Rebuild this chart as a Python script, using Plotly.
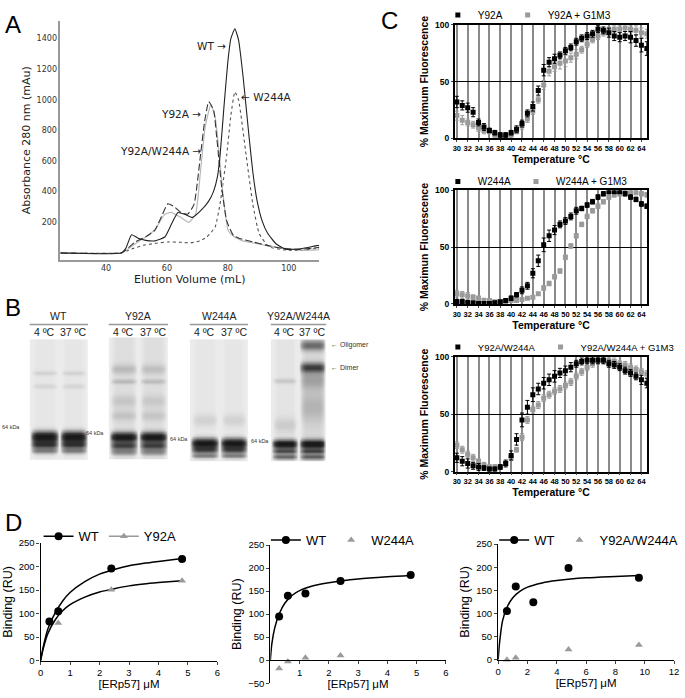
import numpy as np
import plotly.graph_objects as go

W, H = 685, 698
FONT = "Liberation Sans"
AFONT = "DejaVu Sans"

# ---------------- Panel A: elution profiles ----------------
wt_x = [25, 45, 46.5, 48.4, 50.8, 53, 56.1, 59.3, 61.5, 63.6, 65.8, 68.4, 71, 73.7, 75.3, 76.6, 77.5, 78.7, 80, 81, 82.3, 83.5, 85, 86, 87, 88.2, 89.5, 91.3, 93, 95.7, 98.8, 104, 109.2, 110]
wt_y = [0, 0, 30, 119, 94, 82, 79, 104, 189, 264, 253, 232, 274, 338, 402, 500, 650, 950, 1250, 1400, 1463, 1390, 1150, 950, 750, 527, 350, 206, 130, 62, 25, 28, 48, 50]
y92a_x = [25, 45, 46.5, 49.6, 53, 56, 58, 59.2, 61.3, 64.6, 67.2, 69.4, 71, 72.6, 74.4, 75.8, 76.9, 78.3, 80.1, 82.3, 84.9, 89.2, 93.5, 98.8, 104, 109.2, 110]
y92a_y = [0, 0, 15, 60, 105, 150, 215, 250, 265, 232, 200, 253, 530, 828, 966, 891, 700, 402, 147, 104, 79, 62, 45, 30, 18, 20, 22]
w244a_x = [25, 45, 47, 49, 52.5, 56, 60.3, 64, 67.8, 71, 73.1, 75.8, 77.4, 79.6, 81, 82.3, 83.5, 86, 88.2, 90.3, 93.5, 98.8, 104, 109.2, 110]
w244a_y = [0, 0, 15, 30, 51, 62, 72, 70, 66, 80, 104, 168, 317, 636, 900, 1051, 1000, 636, 317, 125, 40, 19, 16, 30, 32]
dbl_x = [25, 45, 46.5, 49.6, 53, 56, 58.5, 60.3, 62.5, 64.6, 66.8, 68.9, 71, 72.3, 73.7, 75.3, 76.4, 78, 79.6, 81.8, 83.9, 88.2, 92.5, 97.8, 103.2, 109.6, 110]
dbl_y = [0, 0, 19, 72, 105, 147, 250, 321, 300, 264, 253, 317, 636, 849, 987, 934, 743, 423, 211, 115, 94, 72, 51, 30, 23, 36, 38]
a_xticks = [40, 60, 80, 100]
a_yticks = [200, 400, 600, 800, 1000, 1200, 1400]

# ---------------- Panel C: thermal melts ----------------
temps = list(range(30, 66))
c1_black = [32, 29, 27, 23, 14, 10, 7, 5, 3, 3, 5, 8, 13, 22, 28, 42, 60, 67, 70, 73, 77, 80, 85, 88, 90, 92, 96, 95, 93, 90, 89, 90, 89, 86, 82, 79]
c1_grey = [20, 16, 14, 12, 9, 7, 6, 3, 1, 1, 3, 6, 11, 17, 24, 34, 47, 59, 63, 66, 68, 71, 74, 78, 83, 87, 90, 93, 95, 96, 96, 97, 96, 95, 93, 92]
c1_black_err = [5, 4, 4, 4, 3, 3, 2, 2, 2, 2, 2, 3, 3, 3, 4, 4, 5, 4, 4, 3, 3, 3, 3, 3, 3, 3, 3, 3, 4, 4, 4, 4, 5, 5, 6, 6]
c1_grey_err = [4, 4, 3, 3, 3, 3, 2, 2, 2, 2, 2, 2, 3, 3, 3, 3, 4, 4, 4, 5, 5, 4, 4, 3, 3, 3, 3, 3, 3, 3, 3, 3, 3, 4, 4, 4]
c2_black = [2, 2, 1, 1, 0.5, 0.5, 0.5, 1, 2, 3, 5, 8, 12, 16, 27, 38, 52, 60, 65, 70, 73, 77, 82, 84, 87, 90, 94, 97, 99, 99, 99, 97, 94, 92, 88, 86]
c2_grey = [9, 8, 7, 6, 5, 3, 3, 2, 2, 2, 3, 3, 4, 5, 6, 9, 14, 18, 24, 29, 41, 51, 60, 70, 77, 82, 86, 90, 94, 96, 97, 99, 99, 98, 97, 96]
c2_black_err = [2, 2, 2, 1, 1, 1, 1, 1, 1, 1, 2, 2, 3, 3, 4, 5, 6, 5, 4, 3, 3, 3, 3, 2, 2, 2, 2, 2, 2, 2, 2, 2, 2, 2, 2, 2]
c2_grey_err = [3, 3, 3, 2, 2, 2, 1, 1, 1, 1, 1, 1, 1, 1, 1, 1, 2, 2, 2, 2, 2, 2, 2, 2, 2, 2, 2, 2, 2, 2, 2, 2, 2, 2, 2, 2]
c3_black = [12, 9, 7, 5, 4, 3, 2, 2, 4, 7, 14, 28, 45, 56, 67, 72, 77, 80, 83, 86, 88, 91, 94, 96, 97, 97, 97, 97, 94, 93, 91, 88, 86, 83, 80, 77]
c3_grey = [23, 19, 15, 12, 9, 6, 4, 4, 4, 7, 12, 19, 30, 45, 54, 58, 64, 67, 70, 72, 75, 78, 83, 87, 91, 94, 97, 97, 97, 96, 94, 93, 91, 89, 87, 85]
c3_black_err = [4, 4, 4, 3, 3, 2, 2, 2, 2, 3, 4, 5, 6, 6, 6, 5, 5, 5, 5, 4, 4, 4, 3, 3, 3, 3, 3, 3, 3, 3, 3, 3, 3, 3, 4, 4]
c3_grey_err = [3, 3, 3, 3, 2, 2, 2, 2, 2, 2, 2, 2, 3, 3, 3, 3, 3, 3, 3, 3, 3, 3, 3, 3, 3, 3, 3, 3, 3, 3, 3, 3, 3, 3, 3, 3]
c_xticks = list(range(30, 66, 2))

# ---------------- Panel D: binding ----------------
d1_wt_x = [0.3, 0.6, 2.4, 4.8]
d1_wt_y = [83, 105, 196, 216]
d1_mut_x = [0.6, 2.4, 4.8]
d1_mut_y = [80, 151, 170]
d1_wtfit_x = [0, 0.1, 0.25, 0.5, 0.75, 1, 1.5, 2, 2.5, 3, 3.5, 4, 4.8]
d1_wtfit_y = [0, 32, 68, 102, 127, 145, 168, 184, 194, 202, 207, 211, 217]
d1_mutfit_x = [0, 0.1, 0.25, 0.5, 0.75, 1, 1.5, 2, 2.5, 3, 3.5, 4, 4.8]
d1_mutfit_y = [0, 28, 58, 87, 106, 119, 135, 146, 153, 159, 163, 166, 170]

d2_wt_x = [0.3, 0.6, 1.2, 2.4, 4.8]
d2_wt_y = [95, 140, 145, 172, 185]
d2_mut_x = [0.3, 0.6, 1.2, 2.4]
d2_mut_y = [-18, -3, 5, 10]
d2_wtfit_x = [0, 0.05, 0.15, 0.3, 0.5, 0.75, 1, 1.5, 2, 3, 4, 4.8]
d2_wtfit_y = [0, 35, 70, 100, 124, 141, 151, 162, 168, 176, 181, 184]

d3_wt_x = [0.6, 1.2, 2.4, 4.8, 9.6]
d3_wt_y = [105, 158, 124, 198, 177]
d3_mut_x = [0.6, 1.2, 2.4, 4.8, 9.6]
d3_mut_y = [0, 4, -1, 22, 32]
d3_wtfit_x = [0, 0.1, 0.3, 0.6, 1, 1.5, 2, 3, 4, 6, 8, 9.6]
d3_wtfit_y = [0, 38, 84, 113, 134, 148, 157, 166, 171, 177, 180, 182]

# ---------------- Panel B: gel bands (position 0=top..1=bottom, intensity, width) ----------------
gel_names = ["WT", "Y92A", "W244A", "Y92A/W244A"]
gel_bands = [
    [  # WT
        [(0.28, 0.07, 0.02), (0.39, 0.06, 0.02), (0.81, 0.95, 0.045), (0.875, 0.6, 0.03), (0.925, 0.35, 0.025)],
        [(0.28, 0.07, 0.02), (0.39, 0.06, 0.02), (0.81, 0.95, 0.045), (0.875, 0.6, 0.03), (0.925, 0.35, 0.025)],
    ],
    [  # Y92A
        [(0.26, 0.12, 0.04), (0.36, 0.12, 0.02), (0.52, 0.08, 0.05), (0.64, 0.09, 0.04), (0.815, 0.9, 0.04), (0.885, 0.55, 0.03), (0.935, 0.3, 0.025)],
        [(0.26, 0.10, 0.04), (0.36, 0.11, 0.02), (0.52, 0.07, 0.05), (0.64, 0.08, 0.04), (0.815, 0.9, 0.04), (0.885, 0.55, 0.03), (0.935, 0.3, 0.025)],
    ],
    [  # W244A
        [(0.66, 0.07, 0.05), (0.85, 0.95, 0.04), (0.905, 0.5, 0.025), (0.95, 0.35, 0.02)],
        [(0.66, 0.07, 0.05), (0.85, 0.95, 0.04), (0.905, 0.5, 0.025), (0.95, 0.35, 0.02)],
    ],
    [  # Y92A/W244A
        [(0.34, 0.10, 0.02), (0.7, 0.08, 0.06), (0.856, 0.95, 0.035), (0.915, 0.5, 0.022), (0.96, 0.45, 0.02)],
        [(0.05, 0.40, 0.04), (0.23, 0.55, 0.04), (0.33, 0.18, 0.08), (0.55, 0.12, 0.12), (0.856, 0.95, 0.035), (0.915, 0.5, 0.022), (0.96, 0.45, 0.02)],
    ],
]
gel_lane_bg = [[0.07, 0.07], [0.10, 0.10], [0.07, 0.07], [0.08, 0.12]]
lane_labels = ["4 ºC", "37 ºC"]

# ---------------- layout boxes (pixels: left, top, right, bottom) ----------------
def dom(l, t, r, b):
    return [l / W, r / W], [1 - b / H, 1 - t / H]

boxes = {
    "A": (58, 12, 320, 256),
    "C1": (457, 16, 652, 132),
    "C2": (457, 185, 652, 301),
    "C3": (457, 355, 652, 472),
    "D1": (38, 545, 217, 665),
    "D2": (270.5, 547, 448, 688),
    "D3": (501, 546, 679, 664),
    "G1": (27, 337, 86, 460),
    "G2": (107, 335, 167, 460),
    "G3": (189, 337, 248, 462),
    "G4": (271, 337, 327, 462),
}
order = ["A", "C1", "C2", "C3", "D1", "D2", "D3", "G1", "G2", "G3", "G4"]
ax_id = {k: ("" if i == 0 else str(i + 1)) for i, k in enumerate(order)}

fig = go.Figure()

def xy(k):
    return dict(xaxis="x" + ax_id[k], yaxis="y" + ax_id[k])

# Panel A traces
SM = 0.45
fig.add_trace(go.Scatter(x=w244a_x, y=w244a_y, mode="lines", line=dict(color="#555", width=1.1, dash="dot", shape="spline", smoothing=SM), showlegend=False, **xy("A")))
fig.add_trace(go.Scatter(x=y92a_x, y=y92a_y, mode="lines", line=dict(color="#b8b8b8", width=1.2, shape="spline", smoothing=SM), showlegend=False, **xy("A")))
fig.add_trace(go.Scatter(x=dbl_x, y=dbl_y, mode="lines", line=dict(color="#333", width=1.1, dash="7px,3px", shape="spline", smoothing=SM), showlegend=False, **xy("A")))
fig.add_trace(go.Scatter(x=wt_x, y=wt_y, mode="lines", line=dict(color="#222", width=1.1, shape="spline", smoothing=SM), showlegend=False, **xy("A")))

# Panel C traces
c_sets = [
    ("C1", "Y92A", c1_black, c1_black_err, c1_grey, c1_grey_err, "legend"),
    ("C2", "W244A", c2_black, c2_black_err, c2_grey, c2_grey_err, "legend2"),
    ("C3", "Y92A/W244A", c3_black, c3_black_err, c3_grey, c3_grey_err, "legend3"),
]
for k, name, bl, ble, gr, gre, lg in c_sets:
    fig.add_trace(go.Scatter(x=temps, y=gr, name=name + " + G1M3", mode="markers",
                             marker=dict(symbol="square", size=5, color="#9a9a9a"),
                             error_y=dict(type="data", array=gre, color="#9a9a9a", thickness=1, width=2),
                             legend=lg, legendrank=2, **xy(k)))
    fig.add_trace(go.Scatter(x=temps, y=bl, name=name, mode="markers",
                             marker=dict(symbol="square", size=5, color="#000"),
                             error_y=dict(type="data", array=ble, color="#000", thickness=1, width=2),
                             legend=lg, legendrank=1, **xy(k)))

def gapped(vals):
    out = []
    for v in vals:
        out += [v, None]
    return out[:-1]

# Panel D traces
d_sets = [
    ("D1", "Y92A", d1_wt_x, d1_wt_y, d1_wtfit_x, d1_wtfit_y, d1_mut_x, d1_mut_y, d1_mutfit_x, d1_mutfit_y, "legend4"),
    ("D2", "W244A", d2_wt_x, d2_wt_y, d2_wtfit_x, d2_wtfit_y, d2_mut_x, d2_mut_y, None, None, "legend5"),
    ("D3", "Y92A/W244A", d3_wt_x, d3_wt_y, d3_wtfit_x, d3_wtfit_y, d3_mut_x, d3_mut_y, None, None, "legend6"),
]
for k, mname, wx, wy, fx, fy, mx, my, mfx, mfy, lg in d_sets:
    fig.add_trace(go.Scatter(x=fx, y=fy, mode="lines", line=dict(color="#000", width=1.5, shape="spline", smoothing=0.8),
                             showlegend=False, cliponaxis=False, **xy(k)))
    if mfx is not None:
        fig.add_trace(go.Scatter(x=mfx, y=mfy, mode="lines", line=dict(color="#000", width=1.5, shape="spline", smoothing=0.8),
                                 showlegend=False, **xy(k)))
    fig.add_trace(go.Scatter(x=gapped(wx), y=gapped(wy), name="WT", mode="lines+markers", connectgaps=False,
                             marker=dict(symbol="circle", size=8, color="#000"), line=dict(color="#000", width=1.5),
                             legend=lg, cliponaxis=False, **xy(k)))
    fig.add_trace(go.Scatter(x=gapped(mx) if mfx is not None else mx, y=gapped(my) if mfx is not None else my,
                             name=mname, mode="lines+markers" if mfx is not None else "markers", connectgaps=False,
                             marker=dict(symbol="triangle-up", size=7, color="#9a9a9a"), line=dict(color="#9a9a9a", width=1.5),
                             legend=lg, cliponaxis=False, **xy(k)))

# Panel B gels as heatmaps
rows = np.linspace(0, 1, 200)
cols = np.linspace(0, 1, 60)
for gi, (bands_pair, bgs) in enumerate(zip(gel_bands, gel_lane_bg)):
    z = np.full((rows.size, cols.size), 0.05)
    for li, (bands, lbg) in enumerate(zip(bands_pair, bgs)):
        c = 0.25 + 0.5 * li
        prof_x = np.clip(1.05 - np.abs((cols - c) / 0.245) ** 4, 0, 1)
        prof_y = np.full(rows.size, lbg)
        for pos, inten, wdt in bands:
            prof_y = prof_y + inten * np.exp(-((rows - pos) / wdt) ** 2)
        z = np.maximum(z, np.outer(np.clip(prof_y, 0, 1), prof_x))
    fig.add_trace(go.Heatmap(x=cols, y=rows, z=z, zmin=0, zmax=1, showscale=False, zsmooth="best",
                             colorscale=[[0, "#f6f6f6"], [0.08, "#e4e4e4"], [0.3, "#a0a0a0"], [0.7, "#3a3a3a"], [1, "#181818"]],
                             hoverinfo="skip", **xy("G%d" % (gi + 1))))

layout = dict(width=W, height=H, margin=dict(l=0, r=0, t=0, b=0), plot_bgcolor="white", paper_bgcolor="white",
              font=dict(family=FONT, color="#000"))

for k in order:
    xd, yd = dom(*boxes[k])
    layout["xaxis" + ax_id[k]] = dict(domain=xd, anchor="y" + ax_id[k])
    layout["yaxis" + ax_id[k]] = dict(domain=yd, anchor="x" + ax_id[k])

# A axes
layout["xaxis"].update(range=[25, 110], tickvals=a_xticks, showline=True, linecolor="#999", linewidth=1.5, ticks="",
                       showgrid=False, zeroline=False, tickfont=dict(family=AFONT, size=8, color="#333"),
                       title=dict(text="Elution Volume (mL)", font=dict(family=AFONT, size=11, color="#222"), standoff=2))
layout["yaxis"].update(range=[-45, 1515], tickvals=a_yticks, showline=True, linecolor="#999", linewidth=1.5, ticks="",
                       showgrid=False, zeroline=False, tickfont=dict(family=AFONT, size=8, color="#333"),
                       title=dict(text="Absorbance 280 nm (mAu)", font=dict(family=AFONT, size=11, color="#222"), standoff=4))

# C axes
c_titles = {"C1": "% Maximum Fluorescence", "C2": "% Maximun Fluorescence", "C3": "% Maximum Fluorescence"}
for k in ["C1", "C2", "C3"]:
    layout["xaxis" + ax_id[k]].update(range=[29.6, 65.1], tickvals=c_xticks, showline=True, mirror=True, linecolor="#000",
                                      linewidth=1.5, ticks="outside", ticklen=2, tickwidth=1, showgrid=True, gridcolor="#8a8a8a",
                                      gridwidth=1.5, zeroline=False, tickangle=0,
                                      tickfont=dict(size=7.5, weight="bold"),
                                      title=dict(text="Temperature °C", font=dict(size=10.5, weight="bold"), standoff=2))
    layout["yaxis" + ax_id[k]].update(range=[0, 100], tickvals=[0, 50, 100], showline=True, mirror=True, linecolor="#000",
                                      linewidth=1.5, ticks="outside", ticklen=2, showgrid=True, gridcolor="#000", gridwidth=1,
                                      zeroline=False, tickfont=dict(size=8.5, weight="bold"),
                                      title=dict(text=c_titles[k], font=dict(size=10.5, weight="bold"), standoff=4))

# D axes
d_ranges = {"D1": ([0, 6], list(range(0, 7)), [0, 250]),
            "D2": ([0, 6], list(range(1, 7)), [-50, 250]),
            "D3": ([0, 12], list(range(0, 13, 2)), [0, 250])}
for k, (xr, xt, yr) in d_ranges.items():
    xd, yd = dom(*boxes[k])
    xa = dict(range=xr, tickvals=xt, showline=True, linecolor="#000", linewidth=1.3, ticks="outside", ticklen=3,
              showgrid=False, zeroline=False, tickfont=dict(size=9.5), ticklabeloverflow="allow",
              title=dict(text="[ERp57] μM", font=dict(size=11.5), standoff=0))
    if yr[0] < 0:
        pos = yd[0] + (0 - yr[0]) / (yr[1] - yr[0]) * (yd[1] - yd[0])
        xa.update(anchor="free", position=pos)
    layout["xaxis" + ax_id[k]].update(xa)
    layout["yaxis" + ax_id[k]].update(range=yr, tickvals=list(range(yr[0], yr[1] + 1, 50)), showline=True, linecolor="#000",
                                      linewidth=1.3, ticks="outside", ticklen=3, showgrid=False, zeroline=False,
                                      tickfont=dict(size=9.5), title=dict(text="Binding (RU)", font=dict(size=12.5), standoff=3))

# Gel axes
for gi in range(4):
    k = "G%d" % (gi + 1)
    layout["xaxis" + ax_id[k]].update(range=[0, 1], visible=False, fixedrange=True)
    layout["yaxis" + ax_id[k]].update(range=[1, 0], visible=False, fixedrange=True)

# Legends
leg_common = dict(orientation="h", bgcolor="rgba(0,0,0,0)", itemwidth=30, tracegroupgap=0, xanchor="left", yanchor="middle")
layout["legend"] = dict(leg_common, x=440 / W, y=1 - 6 / H, font=dict(size=10))
layout["legend2"] = dict(leg_common, x=440 / W, y=1 - 176 / H, font=dict(size=10))
layout["legend3"] = dict(leg_common, x=440 / W, y=1 - 345 / H, font=dict(size=9.5))
layout["legend4"] = dict(leg_common, x=36 / W, y=1 - 538 / H, font=dict(size=13))
layout["legend5"] = dict(leg_common, x=266 / W, y=1 - 542 / H, font=dict(size=13))
layout["legend6"] = dict(leg_common, x=497 / W, y=1 - 542 / H, font=dict(size=13))

ann = []
def pa(text, x, y, size, xanchor="center", yanchor="middle", color="#000", family=FONT, **kw):
    ann.append(dict(text=text, x=x / W, y=1 - y / H, xref="paper", yref="paper", showarrow=False, xanchor=xanchor,
                    yanchor=yanchor, font=dict(size=size, color=color, family=family), **kw))

# Panel letters
pa("A", 0, 16, 24, xanchor="left")
pa("B", 0, 305, 24, xanchor="left")
pa("C", 380, 12, 24, xanchor="left")
pa("D", 0, 524, 24, xanchor="left")

# Panel A curve labels
for text, x, y, xa in [("WT →", 80.2, 1348, "right"), ("← W244A", 83.7, 1017, "left"),
                       ("Y92A →", 71.8, 908, "right"), ("Y92A/W244A →", 71.8, 665, "right")]:
    ann.append(dict(text=text, x=x, y=y, xref="x", yref="y", showarrow=False, xanchor=xa, yanchor="middle",
                    font=dict(size=10.5, family=AFONT, color="#222")))

# Panel B labels
for gi, name in enumerate(gel_names):
    l, t, r, b = boxes["G%d" % (gi + 1)]
    pa(name, (l + r) / 2, 313, 10.5, color="#222")
    pa(lane_labels[0], l + (r - l) * 0.25, 330, 10.5, color="#222")
    pa(lane_labels[1], l + (r - l) * 0.75, 330, 10.5, color="#222")
mk_pos = [(8, 427), (93, 433), (178, 439), (260, 441)]
for (x, y) in mk_pos:
    pa("64 kDa", x, y, 5.5, color="#333")
pa("← Oligomer", 330, 343, 7, xanchor="left", color="#333")
pa("← Dimer", 330, 366, 7, xanchor="left", color="#333")

layout["annotations"] = ann

shapes = []
for gi in range(4):
    l, t, r, b = boxes["G%d" % (gi + 1)]
    shapes.append(dict(type="line", xref="paper", yref="paper", x0=l / W, x1=r / W, y0=1 - 322 / H, y1=1 - 322 / H,
                       line=dict(color="#999", width=1.5)))
layout["shapes"] = shapes

fig.update_layout(layout)
fig.write_html("out.html", config={"displayModeBar": False},
               post_script="document.body.style.margin='0';document.body.style.overflow='hidden';")
